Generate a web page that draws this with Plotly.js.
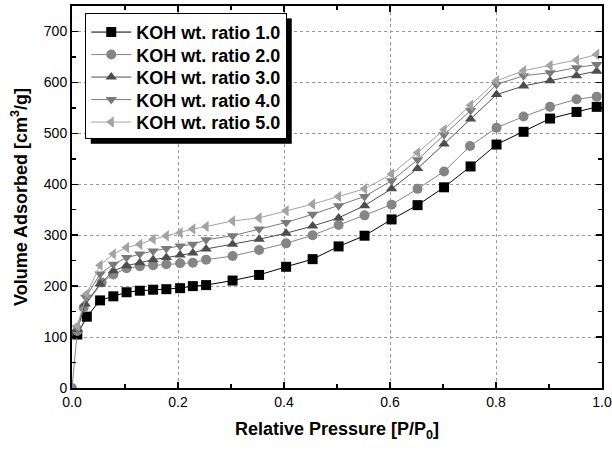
<!DOCTYPE html>
<html>
<head>
<meta charset="utf-8">
<script src="https://cdn.plot.ly/plotly-3.0.1.min.js"></script>
<style>html,body{margin:0;padding:0;background:#fff;}#chart{width:612px;height:449px;}</style>
</head>
<body>
<div id="chart"></div>
<script>
const seriesNames = ["KOH wt. ratio 1.0","KOH wt. ratio 2.0","KOH wt. ratio 3.0","KOH wt. ratio 4.0","KOH wt. ratio 5.0"];

const x1 = [0.01,0.028,0.053,0.078,0.103,0.128,0.153,0.178,0.204,0.228,0.253,0.303,0.353,0.404,0.454,0.503,0.552,0.603,0.652,0.702,0.752,0.801,0.852,0.902,0.952,0.99];
const y1 = [105,140,172,180,188,191,193,194,196,200,202,211,222,238,253,278,299,331,359,394,435,478,503,529,542,552];

const x2 = [0.0,0.01,0.022,0.056,0.078,0.103,0.128,0.153,0.178,0.204,0.228,0.253,0.303,0.353,0.404,0.454,0.503,0.552,0.603,0.652,0.702,0.751,0.801,0.852,0.902,0.952,0.99];
const y2 = [0,112,158,207,223,235,239,241,243,245,246,252,259,271,284,300,320,339,360,391,425,475,511,533,552,567,572];

const x3 = [0.01,0.025,0.053,0.078,0.103,0.128,0.153,0.178,0.204,0.228,0.253,0.303,0.353,0.404,0.454,0.503,0.552,0.603,0.652,0.702,0.752,0.801,0.852,0.902,0.952,0.99];
const y3 = [115,165,204,230,240,246,252,256,261,265,273,282,292,304,318,334,358,391,431,479,528,576,593,603,613,622];

const x4 = [0.01,0.026,0.053,0.078,0.103,0.128,0.153,0.178,0.204,0.228,0.253,0.303,0.353,0.404,0.454,0.503,0.552,0.603,0.652,0.702,0.752,0.801,0.852,0.902,0.952,0.99];
const y4 = [118,178,224,243,256,263,269,274,279,282,291,299,312,325,341,358,376,407,448,497,545,596,613,619,629,635];

const x5 = [0.01,0.028,0.053,0.078,0.103,0.128,0.153,0.178,0.204,0.228,0.253,0.303,0.353,0.404,0.454,0.503,0.552,0.603,0.652,0.702,0.752,0.801,0.852,0.902,0.952,0.99];
const y5 = [122,185,241,263,276,282,292,299,305,312,317,328,334,348,361,376,391,420,462,507,555,603,623,633,644,655];

const xs = [x1,x2,x3,x4,x5];
const ys = [y1,y2,y3,y4,y5];
const colors = ["#000000","#858585","#4d4d4d","#7a7a7a","#a3a3a3"];
const symbols = ["square","circle","triangle-up","triangle-down","triangle-left"];

const traces = xs.map((x,i)=>({
  x: x, y: ys[i], name: seriesNames[i], type: "scatter", mode: "lines+markers",
  line: {color: colors[i], width: 1},
  marker: {symbol: symbols[i], size: 10, color: colors[i], line: {width: 0}}
}));

const fam = "Liberation Sans, Arial, sans-serif";
const axisCommon = {
  showline: true, linecolor: "#000", linewidth: 2, mirror: "ticks",
  ticks: "inside", ticklen: 6, tickwidth: 1.5, tickcolor: "#000",
  showgrid: true, gridcolor: "#999", griddash: "dot", gridwidth: 1,
  zeroline: false,
  tickfont: {family: fam, size: 14, color: "#000"}
};

const layout = {
  width: 612, height: 449,
  margin: {l: 72, r: 10, t: 6, b: 61},
  paper_bgcolor: "#fff", plot_bgcolor: "#fff",
  showlegend: true,
  legend: {
    x: 0.025, y: 0.982, xanchor: "left", yanchor: "top",
    bgcolor: "#fff", bordercolor: "#000", borderwidth: 1,
    font: {family: fam, size: 18, color: "#000", weight: "bold"},
    tracegroupgap: 0, itemwidth: 40
  },
  xaxis: Object.assign({}, axisCommon, {
    range: [0, 1.0], dtick: 0.2, tickformat: ".1f",
    minor: {dtick: 0.1, ticks: "inside", ticklen: 4, tickcolor: "#000", showgrid: false},
    title: {text: "<b>Relative Pressure [P/P<sub>0</sub>]</b>", font: {family: fam, size: 18, color: "#000"}, standoff: 14}
  }),
  yaxis: Object.assign({}, axisCommon, {
    range: [0, 750], dtick: 100,
    minor: {dtick: 50, ticks: "inside", ticklen: 4, tickcolor: "#000", showgrid: false},
    title: {text: "<b>Volume Adsorbed [cm<sup>3</sup>/g]</b>", font: {family: fam, size: 18, color: "#000"}, standoff: 12}
  })
};

Plotly.newPlot("chart", traces, layout, {displayModeBar: false, staticPlot: true}).then(function(){
  try {
    const leg = document.querySelector('#chart .legend');
    const bg = leg.querySelector('rect.bg');
    const items = Array.from(leg.querySelectorAll('g.traces'));
    const step = 22.5;
    let y0 = null, x0 = 0;
    items.forEach(function(it, i){
      const m = /translate\(\s*([-\d.]+)[ ,]+([-\d.]+)\s*\)/.exec(it.getAttribute('transform') || '');
      if (!m) return;
      if (y0 === null) { y0 = parseFloat(m[2]); x0 = parseFloat(m[1]); }
      it.setAttribute('transform', 'translate(' + parseFloat(m[1]) + ',' + (y0 + i * step) + ')');
    });
    const h = parseFloat(bg.getAttribute('height'));
    const oldStep = 26.4;
    const newH = h - (oldStep - step) * (items.length - 1) - 2;
    bg.setAttribute('height', newH);
    const clip = document.querySelector('#chart defs clipPath[id*="legend"] rect');
    if (clip) clip.setAttribute('height', newH);
    const shadow = document.createElementNS('http://www.w3.org/2000/svg', 'rect');
    shadow.setAttribute('x', parseFloat(bg.getAttribute('x') || 0) + 5);
    shadow.setAttribute('y', parseFloat(bg.getAttribute('y') || 0) + 5);
    shadow.setAttribute('width', bg.getAttribute('width'));
    shadow.setAttribute('height', newH);
    shadow.setAttribute('fill', '#000');
    leg.insertBefore(shadow, bg);
  } catch (e) {}
});
</script>
</body>
</html>
